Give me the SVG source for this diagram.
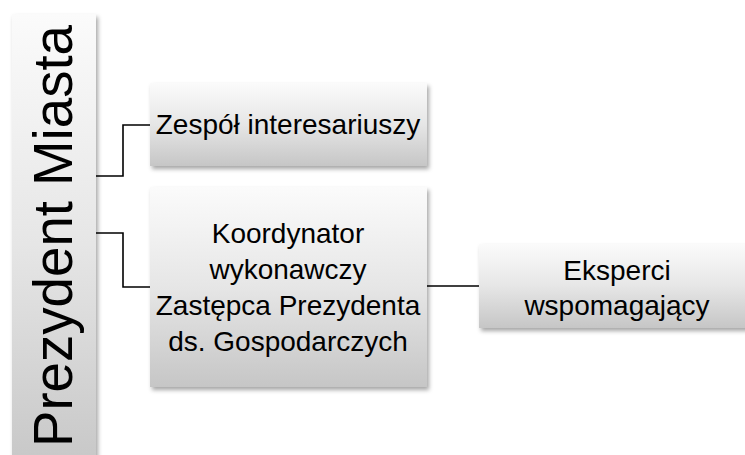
<svg xmlns="http://www.w3.org/2000/svg" width="745" height="455" viewBox="0 0 745 455">
  <style>
    .box { fill: url(#g); filter: url(#sh); }
    .lbl { font-family: "Liberation Sans", Arial, sans-serif; font-size: 28px; fill: #000; text-anchor: middle; }
    .big { font-family: "Liberation Sans", Arial, sans-serif; font-size: 56px; fill: #000; text-anchor: middle; }
    .con { fill: none; stroke: #000; stroke-width: 1.6; }
  </style>
  <defs>
    <linearGradient id="g" x1="0" y1="0" x2="0" y2="1">
      <stop offset="0" stop-color="#fbfbfb"/>
      <stop offset="0.5" stop-color="#e6e6e6"/>
      <stop offset="1" stop-color="#c6c6c6"/>
    </linearGradient>
    <filter id="sh" x="-10%" y="-10%" width="125%" height="130%">
      <feDropShadow dx="2" dy="3" stdDeviation="2" flood-color="#000" flood-opacity="0.35"/>
    </filter>
  </defs>
  <rect width="745" height="455" fill="#fff"/>
  <g id="connectors">
    <polyline class="con" points="96,176 123,176 123,125 150,125"/>
    <polyline class="con" points="96,233 123,233 123,287 150,287"/>
    <polyline class="con" points="426,286 479,286"/>
  </g>
  <g id="prezydent">
    <rect class="box" x="12" y="14" width="84" height="460"/>
    <text class="big" transform="translate(72,236) rotate(-90)" textLength="422" lengthAdjust="spacingAndGlyphs">Prezydent Miasta</text>
  </g>
  <g id="zespol">
    <rect class="box" x="150" y="83" width="277" height="83"/>
    <text class="lbl" x="288" y="134">Zespół interesariuszy</text>
  </g>
  <g id="koordynator">
    <rect class="box" x="150" y="187" width="277" height="200"/>
    <text class="lbl" x="288" y="243">Koordynator</text>
    <text class="lbl" x="288" y="279">wykonawczy</text>
    <text class="lbl" x="288" y="315">Zastępca Prezydenta</text>
    <text class="lbl" x="288" y="351">ds. Gospodarczych</text>
  </g>
  <g id="eksperci">
    <rect class="box" x="479" y="244" width="277" height="84"/>
    <text class="lbl" x="617" y="280">Eksperci</text>
    <text class="lbl" x="617" y="315">wspomagający</text>
  </g>
</svg>
